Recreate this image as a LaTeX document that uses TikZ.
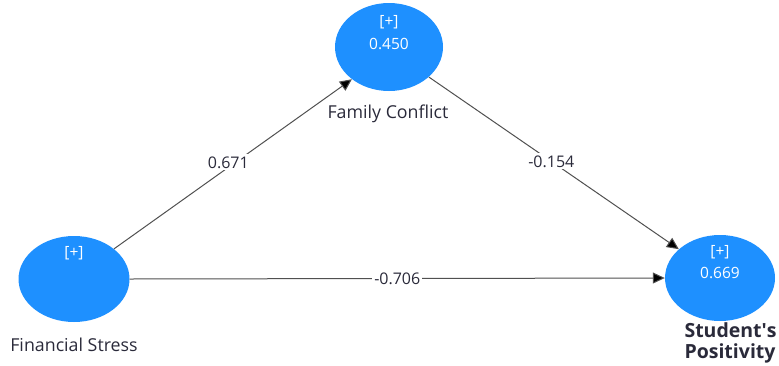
\documentclass[tikz,border=0pt]{standalone}
\usepackage{fontspec}
\setmainfont{Open Sans}
\usetikzlibrary{arrows.meta,shapes.geometric}
\definecolor{lvblue}{HTML}{1E90FF}
\definecolor{edgegray}{HTML}{505050}
\definecolor{labtext}{HTML}{2A2A3A}
\begin{document}
\begin{tikzpicture}[x=1pt,y=-1pt,
  latent/.style={ellipse,fill=lvblue,inner sep=0pt},
  intext/.style={text=white,font=\fontsize{15.5}{18}\selectfont},
  namelab/.style={text=labtext,font=\fontsize{17.8}{20}\selectfont},
  coef/.style={fill=white,inner sep=2pt,text=labtext,font=\fontsize{16}{19}\selectfont},
  path/.style={draw=edgegray,line width=1pt,-{Triangle[length=12pt,width=11pt,fill=black]}}
]
\useasboundingbox (0,0) rectangle (779,365);
\node[latent,minimum width=108pt,minimum height=88pt] (fc) at (389,47) {};
\node[latent,minimum width=111pt,minimum height=86pt] (fs) at (74,279) {};
\node[latent,minimum width=110pt,minimum height=86pt] (sp) at (720,278) {};
\node[intext] (fcp) at (389,22) {[+]};
\node[intext] (fcv) at (389,44) {0.450};
\node[intext] (fsp) at (74,253) {[+]};
\node[intext] (spp) at (720,252) {[+]};
\node[intext] (spv) at (720,273) {0.669};
\node[namelab] (fcl) at (388,114) {Family Conflict};
\node[namelab] (fsl) at (74,345) {Financial Stress};
\node[namelab,font=\fontsize{19.5}{21}\selectfont\bfseries,align=left,anchor=west] (spl) at (681,343) {Student\textquotesingle s\\Positivity};
\draw[path] (fs.37) -- (fc.221) node[coef,pos=0.51,xshift=-7pt] {0.671};
\draw[path] (fc.-37) -- (sp.145) node[coef,pos=0.49] {-0.154};
\draw[path] (fs.east) -- (sp.west) node[coef,pos=0.5] {-0.706};
\end{tikzpicture}
\end{document}
